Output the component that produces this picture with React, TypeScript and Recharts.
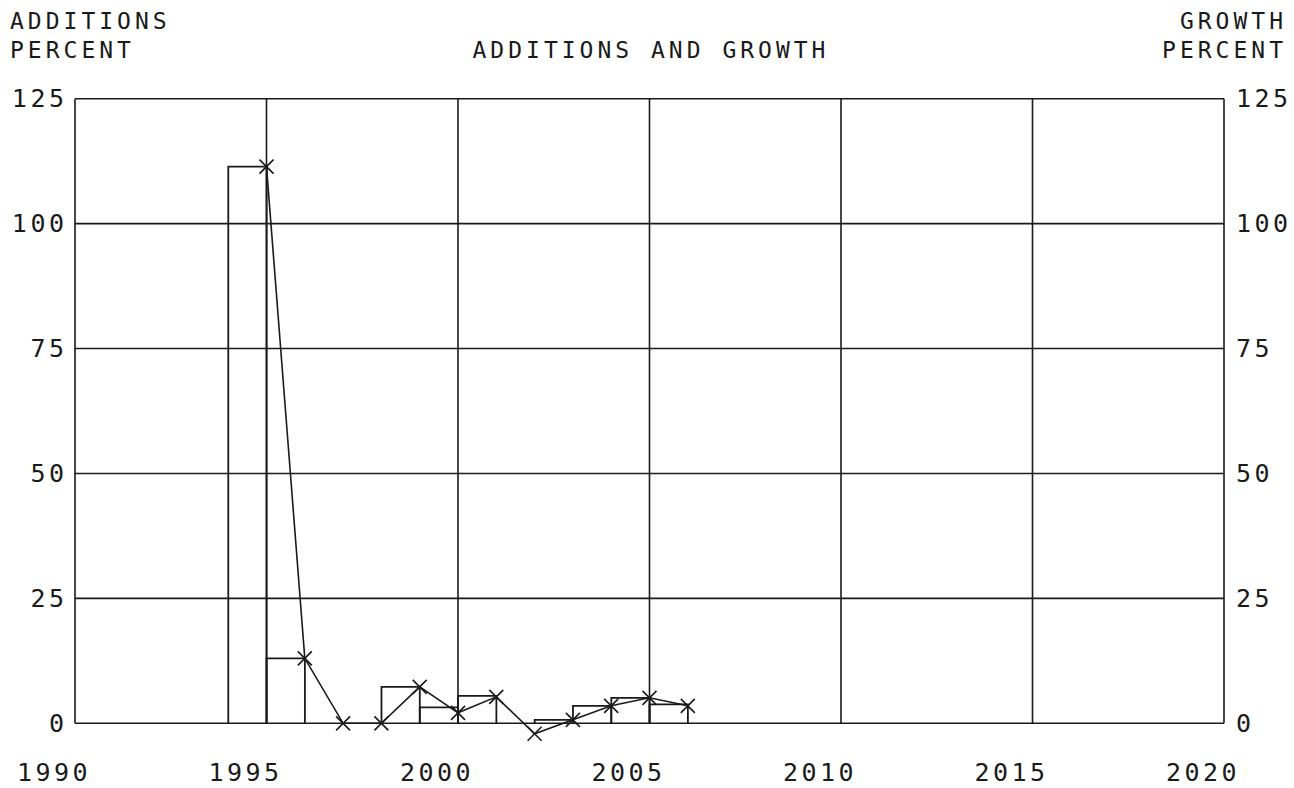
import React from 'react';
import {
  ComposedChart,
  Bar,
  Line,
  XAxis,
  YAxis,
  ReferenceLine,
} from 'recharts';

// values
const years = [1995, 1996, 1997, 1998, 1999, 2000, 2001, 2002, 2003, 2004, 2005, 2006];
const additions = [111.4, 13.0, 0, 0, 7.3, 3.2, 5.5, 0, 0.7, 3.5, 5.1, 3.8];
const growth = [111.4, 13.0, 0, 0, 7.3, 2.1, 5.3, -2.1, 0.7, 3.5, 5.1, 3.5];
const yearTicks = [1990, 1995, 2000, 2005, 2010, 2015, 2020];
const percentTicks = [0, 25, 50, 75, 100, 125];

const W = 1294;
const H = 788;
const LEFT_W = 75;
const RIGHT_W = 70;
const TOP = 98.7;
const XAXIS_H = 49.7;
const PLOT_W = W - LEFT_W - RIGHT_W;
const YEAR_PX = PLOT_W / (2020 - 1990);

const INK = '#1a1a1a';
const FONT = '"DejaVu Sans Mono", monospace';

const data = years.map((year, i) => ({ year, additions: additions[i], growth: growth[i] }));

// bar outline covering the year before the tick (no bottom edge)
function StepBar(props: any) {
  const { x, y, width, height } = props;
  if (!height || Math.abs(height) < 0.05) return null;
  const right = x + width / 2;
  const left = right - YEAR_PX;
  const bottom = y + height;
  return (
    <path
      d={`M${left},${bottom}V${y}H${right}V${bottom}`}
      fill="none"
      stroke={INK}
      strokeWidth={1.8}
    />
  );
}

function Cross(props: any) {
  const { cx, cy, index } = props;
  if (cx == null || cy == null) return null;
  const r = 7;
  return (
    <path
      key={`x-${index}`}
      d={`M${cx - r},${cy - r}L${cx + r},${cy + r}M${cx - r},${cy + r}L${cx + r},${cy - r}`}
      stroke={INK}
      strokeWidth={1.6}
      fill="none"
    />
  );
}

function YearTick({ x, y, payload }: any) {
  return (
    <text
      x={x - 21}
      y={y + 34}
      textAnchor="middle"
      dominantBaseline="central"
      fontFamily={FONT}
      fontSize={25}
      letterSpacing={3.5}
      fill={INK}
    >
      {payload.value}
    </text>
  );
}

function PercentTick({ x, y, payload, anchor }: any) {
  return (
    <text
      x={anchor === 'end' ? x + 3.5 : x}
      y={y}
      textAnchor={anchor}
      dominantBaseline="central"
      fontFamily={FONT}
      fontSize={25}
      letterSpacing={3.5}
      fill={INK}
    >
      {payload.value}
    </text>
  );
}

const headText = {
  fontFamily: FONT,
  fontSize: 23,
  letterSpacing: 4,
  fill: INK,
};

export default function App() {
  return (
    <div style={{ position: 'absolute', left: 0, top: 0, width: W, height: H, background: '#fff' }}>
      <ComposedChart
        width={W}
        height={H}
        data={data}
        margin={{ top: TOP, right: 0, bottom: 0, left: 0 }}
      >
        <XAxis
          dataKey="year"
          type="number"
          domain={[1990, 2020]}
          ticks={yearTicks}
          interval={0}
          axisLine={false}
          tickLine={false}
          tickSize={0}
          tickMargin={0}
          height={XAXIS_H}
          tick={<YearTick />}
        />
        <YAxis
          yAxisId="left"
          type="number"
          domain={[-3, 125]}
          ticks={percentTicks}
          interval={0}
          width={LEFT_W}
          axisLine={false}
          tickLine={false}
          tickSize={0}
          tickMargin={11}
          tick={<PercentTick anchor="end" />}
        />
        <YAxis
          yAxisId="right"
          orientation="right"
          type="number"
          domain={[-3, 125]}
          ticks={percentTicks}
          interval={0}
          width={RIGHT_W}
          axisLine={false}
          tickLine={false}
          tickSize={0}
          tickMargin={12}
          tick={<PercentTick anchor="start" />}
        />
        {percentTicks.map((v) => (
          <ReferenceLine
            key={`h-${v}`}
            yAxisId="left"
            y={v}
            stroke={INK}
            strokeWidth={1.6}
          />
        ))}
        {yearTicks.map((yr) => (
          <ReferenceLine
            key={`v-${yr}`}
            yAxisId="left"
            segment={[{ x: yr, y: 0 }, { x: yr, y: 125 }]}
            stroke={INK}
            strokeWidth={1.6}
          />
        ))}
        <Bar
          yAxisId="left"
          dataKey="additions"
          barSize={YEAR_PX}
          shape={<StepBar />}
          isAnimationActive={false}
        />
        <Line
          yAxisId="right"
          dataKey="growth"
          type="linear"
          stroke={INK}
          strokeWidth={1.6}
          dot={<Cross />}
          activeDot={false}
          isAnimationActive={false}
        />
      </ComposedChart>
      <svg
        width={W}
        height={H}
        style={{ position: 'absolute', left: 0, top: 0, pointerEvents: 'none' }}
      >
        <text x={10} y={28.5} {...headText}>ADDITIONS</text>
        <text x={10} y={58} {...headText}>PERCENT</text>
        <text x={651} y={58} textAnchor="middle" {...headText}>ADDITIONS AND GROWTH</text>
        <text x={1287} y={28.5} textAnchor="end" {...headText}>GROWTH</text>
        <text x={1287} y={58} textAnchor="end" {...headText}>PERCENT</text>
      </svg>
    </div>
  );
}
